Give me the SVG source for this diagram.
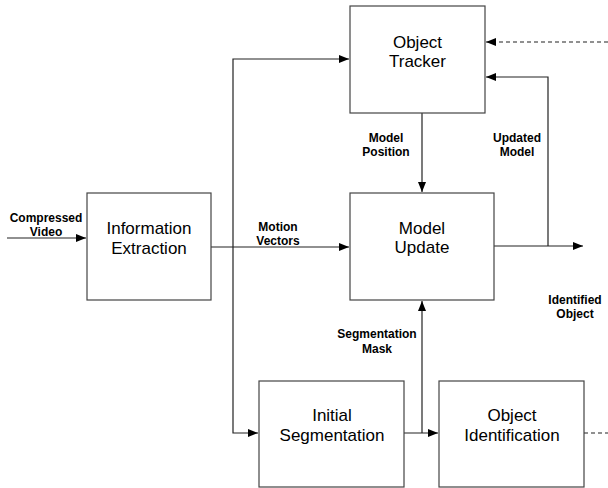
<svg xmlns="http://www.w3.org/2000/svg" width="608" height="488" viewBox="0 0 608 488">
<style>
.box{fill:#fff;stroke:#444;stroke-width:1.2}
.t{font-family:"Liberation Sans",Arial,sans-serif;font-size:17px;fill:#000;text-anchor:middle}
.l{font-family:"Liberation Sans",Arial,sans-serif;font-size:12px;font-weight:bold;fill:#000;text-anchor:middle}
.c{fill:none;stroke:#222;stroke-width:1.2}
.d{stroke-dasharray:4 3}
</style>
<defs>
<marker id="ah" markerUnits="userSpaceOnUse" markerWidth="11" markerHeight="9" refX="10" refY="4" orient="auto">
<path d="M0,0 L10,4 L0,8 z" fill="#000"/>
</marker>
</defs>
<rect width="608" height="488" fill="#fff"/>
<g id="connectors">
<path class="c" d="M7,238 H86" marker-end="url(#ah)"/>
<path class="c" d="M211,247 H349" marker-end="url(#ah)"/>
<path class="c" d="M233,247 V59 H349" marker-end="url(#ah)"/>
<path class="c" d="M233,247 V433 H258" marker-end="url(#ah)"/>
<path class="c" d="M422,113 V192" marker-end="url(#ah)"/>
<path class="c" d="M494,246 H583" marker-end="url(#ah)"/>
<path class="c" d="M548,246 V77 H486" marker-end="url(#ah)"/>
<path class="c d" d="M608,42 H486" marker-end="url(#ah)"/>
<path class="c" d="M404,433 H438" marker-end="url(#ah)"/>
<path class="c" d="M422,433 V301" marker-end="url(#ah)"/>
<path class="c d" d="M584,433 H608"/>
<text class="l" x="46" y="222">Compressed</text>
<text class="l" x="46" y="236">Video</text>
<text class="l" x="278" y="231">Motion</text>
<text class="l" x="278" y="245">Vectors</text>
<text class="l" x="386" y="142">Model</text>
<text class="l" x="386" y="156">Position</text>
<text class="l" x="517" y="142">Updated</text>
<text class="l" x="517" y="156">Model</text>
<text class="l" x="575" y="304">Identified</text>
<text class="l" x="575" y="318">Object</text>
<text class="l" x="377" y="338">Segmentation</text>
<text class="l" x="377" y="353">Mask</text>
</g>
<g id="object-tracker">
<rect class="box" x="350" y="6" width="135" height="107"/>
<text class="t" x="417.5" y="48">Object</text>
<text class="t" x="417.5" y="67">Tracker</text>
</g>
<g id="information-extraction">
<rect class="box" x="87" y="193" width="124" height="107"/>
<text class="t" x="149" y="234">Information</text>
<text class="t" x="149" y="254">Extraction</text>
</g>
<g id="model-update">
<rect class="box" x="350" y="193" width="144" height="107"/>
<text class="t" x="422" y="234">Model</text>
<text class="t" x="422" y="253">Update</text>
</g>
<g id="initial-segmentation">
<rect class="box" x="259" y="381" width="145" height="106"/>
<text class="t" x="332" y="421">Initial</text>
<text class="t" x="332" y="441">Segmentation</text>
</g>
<g id="object-identification">
<rect class="box" x="439" y="381" width="145" height="106"/>
<text class="t" x="512" y="421">Object</text>
<text class="t" x="512" y="441">Identification</text>
</g>
</svg>
